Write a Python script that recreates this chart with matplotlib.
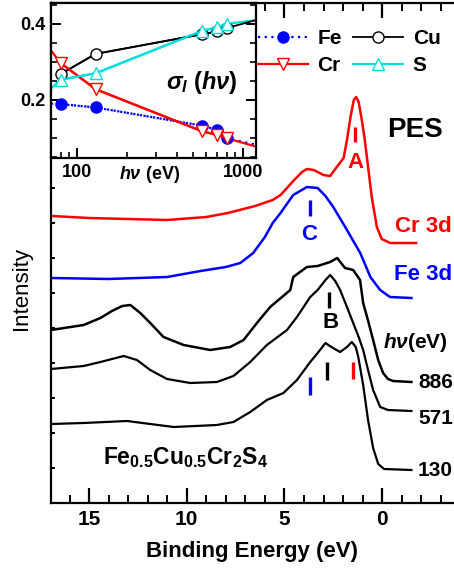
import matplotlib
matplotlib.use("Agg")
import matplotlib.pyplot as plt
import numpy as np
from matplotlib.ticker import MultipleLocator, LogLocator, NullFormatter

plt.rcParams['font.family'] = 'Liberation Sans'
plt.rcParams['font.weight'] = 'bold'
plt.rcParams['mathtext.fontset'] = 'custom'
plt.rcParams['mathtext.rm'] = 'Liberation Sans:bold'
plt.rcParams['mathtext.it'] = 'Liberation Sans:bold:italic'
plt.rcParams['mathtext.bf'] = 'Liberation Sans:bold'

# ---- main panel: PES spectra (binding energy in eV, intensity offset, arb. units) ----
TOP = 503  # spectra were read downward from the top of the panel

cr_E = [16.9, 15, 13, 11, 9, 7.9, 6.5, 5.6, 5.2, 4.5, 4.1, 3.85, 3.5, 3.0, 2.66, 2.32,
        1.97, 1.8, 1.6, 1.45, 1.33, 1.2, 1.04, 0.9, 0.78, 0.53, 0.27, 0.02, -0.41, -1.74]
cr_I = TOP - np.array([216, 218, 219, 220, 217, 213, 206, 200, 195, 180, 172, 169, 170, 175, 176, 167,
                       158, 140, 115, 100, 97, 102, 120, 138, 157, 197, 227, 239, 243, 243])

fe_E = [16.9, 14, 11, 9.3, 8, 7.26, 6.6, 6.0, 5.6, 5.2, 4.55, 3.85, 3.3, 2.9, 2.5, 1.8,
        1.12, 0.6, 0.1, -0.4, -1.5]
fe_I = TOP - np.array([278, 279, 277, 271, 267, 263, 253, 237, 223, 213, 195, 187, 188, 196, 207, 230,
                       253, 277, 290, 297, 298])

h886_E = [16.95, 15.28, 14.42, 13.83, 13.3, 12.89, 12.38, 11.87, 11.19, 10.16, 8.8, 7.78, 7.09,
          6.41, 5.73, 4.7, 4.55, 3.85, 3.3, 2.66, 2.3, 1.9, 1.48, 1.13, 0.97, 0.7, 0.46, 0.2,
          -0.05, -0.3, -0.56, -1.5]
h886_I = TOP - np.array([330, 325, 318, 311, 306, 305, 313, 323, 337, 345, 350, 347, 340,
                         323, 307, 290, 277, 267, 266, 262, 258, 268, 270, 280, 303, 322, 340, 360,
                         373, 379, 381, 382])

h571_E = [16.95, 15.28, 14.42, 13.23, 12.55, 11.87, 11.01, 9.82, 8.46, 7.61, 6.75, 5.9, 4.87,
          4.36, 3.68, 3.3, 2.9, 2.66, 2.4, 2.15, 1.8, 1.48, 1.2, 0.97, 0.72, 0.46, 0.1, -0.3, -1.5]
h571_I = TOP - np.array([369, 366, 362, 356, 360, 370, 379, 383, 382, 376, 362, 345, 330,
                         317, 297, 290, 280, 275, 281, 290, 307, 323, 337, 350, 370, 390, 407, 410, 411])

h130_E = [16.95, 15.28, 13.06, 10.67, 8.46, 7.61, 6.75, 5.9, 5.05, 4.36, 3.68, 3.3,
          2.9, 2.6, 2.15, 1.8, 1.55, 1.35, 1.22, 0.97, 0.72, 0.46, 0.2, -0.1, -1.5]
h130_I = TOP - np.array([424, 423, 421, 427, 425, 422, 412, 400, 393, 380, 362, 353,
                         343, 347, 352, 347, 342, 347, 357, 385, 420, 448, 464, 469, 470])

# peak markers: (energy, lower, upper, colour)
peak_E = [1.38, 3.7, 2.7, 3.7, 2.8, 1.5]
peak_lo = TOP - np.array([142, 216, 308, 395, 380, 379])
peak_hi = TOP - np.array([127, 200, 292, 377, 362, 362])
peak_col = ['red', 'blue', 'black', 'blue', 'black', 'red']

# ---- inset: photoionisation cross sections ----
hv = [80, 130, 571, 700, 800]
sig_fe = [0.189, 0.180, 0.132, 0.121, 0.099]
sig_cu = [0.268, 0.321, 0.373, 0.380, 0.389]
sig_cr = [0.297, 0.228, 0.117, 0.108, 0.099]
sig_s = [0.253, 0.270, 0.382, 0.391, 0.400]
# connecting lines run through the points out to the frame
line_hv = [70, 80, 130, 571, 700, 800, 1200]
line_fe = [0.19, 0.189, 0.180, 0.132, 0.121, 0.099, 0.082]
line_cr = [0.33, 0.297, 0.228, 0.117, 0.108, 0.099, 0.077]
line_s = [0.23, 0.253, 0.270, 0.382, 0.391, 0.400, 0.41]
line_cu_hv = [80, 130, 571, 700, 800, 1200]
line_cu = [0.268, 0.321, 0.373, 0.380, 0.389, 0.41]

W, H = 454, 570
fig = plt.figure(figsize=(W / 100, H / 100), dpi=100)

ax = fig.add_axes([51 / W, 67 / H, 403 / W, 500 / H])
lw = 1.6
ax.plot(cr_E, cr_I, color='red', lw=1.8)
ax.plot(fe_E, fe_I, color='blue', lw=1.8)
ax.plot(h886_E, h886_I, color='black', lw=1.8)
ax.plot(h571_E, h571_I, color='black', lw=lw)
ax.plot(h130_E, h130_I, color='black', lw=lw)
for e, lo, hi, c in zip(peak_E, peak_lo, peak_hi, peak_col):
    ax.vlines(e, lo, hi, color=c, lw=2.4)

ax.set_xlim(16.95, -3.68)
ax.set_ylim(0, 500)
ax.spines['right'].set_visible(False)
for s in ['left', 'bottom', 'top']:
    ax.spines[s].set_linewidth(1.6)
ax.xaxis.set_major_locator(MultipleLocator(5))
ax.xaxis.set_minor_locator(MultipleLocator(1))
ax.yaxis.set_major_locator(MultipleLocator(35))
ax.tick_params(axis='x', which='major', direction='in', length=10.5, width=1.6,
               labelsize=15, pad=5, top=True)
ax.tick_params(axis='x', which='minor', direction='in', length=5.5, width=1.4, top=True)
ax.tick_params(axis='y', which='major', direction='in', length=3, width=1.4, labelleft=False)
ax.set_xlabel('Binding Energy (eV)', fontsize=16, fontweight='bold', labelpad=9)
ax.set_ylabel('Intensity', fontsize=16, fontweight='normal')
ax.yaxis.set_label_coords(-0.047, 0.43)

ax.text(-1.69, 373, 'PES', fontsize=20, ha='center', va='center')
ax.text(-0.66, 276, 'Cr 3d', fontsize=16, color='red', ha='left', va='center')
ax.text(-0.61, 228, 'Fe 3d', fontsize=16, color='blue', ha='left', va='center')
ax.text(-0.05, 160, r'$\mathit{h\nu}$(eV)', fontsize=15, ha='left', va='center')
ax.text(-1.84, 120, '886', fontsize=15, ha='left', va='center')
ax.text(-1.84, 85, '571', fontsize=15, ha='left', va='center')
ax.text(-1.84, 33, '130', fontsize=15, ha='left', va='center')
ax.text(1.38, 341, 'A', fontsize=16, color='red', ha='center', va='center')
ax.text(2.66, 180, 'B', fontsize=16, ha='center', va='center')
ax.text(3.73, 268, 'C', fontsize=16, color='blue', ha='center', va='center')
ax.text(14.27, 45, r'Fe$_{0.5}$Cu$_{0.5}$Cr$_2$S$_4$', fontsize=16.5, ha='left', va='center')

# ---- inset ----
axi = fig.add_axes([51 / W, 1 - 158 / H, 205 / W, 155 / H])
axi.set_facecolor('white')
axi.set_xscale('log')
ms = 8
axi.plot(line_hv, line_fe, color='blue', ls=(0, (1, 2)), lw=1.6)
axi.plot(line_hv, line_cr, color='red', lw=1.6)
axi.plot(line_hv, line_s, color='#00e0e0', lw=1.6)
axi.plot(line_cu_hv, line_cu, color='black', lw=1.3)
h_fe, = axi.plot(hv, sig_fe, color='blue', ls=(0, (1, 2)), lw=1.6, marker='o', ms=ms,
                 mfc='blue', mec='blue', label='Fe')
h_cu, = axi.plot(hv, sig_cu, color='black', lw=1.3, marker='o', ms=ms,
                 mfc='white', mec='black', mew=1.0, label='Cu')
h_cr, = axi.plot(hv, sig_cr, color='red', lw=1.6, marker='v', ms=ms + 1,
                 mfc='white', mec='red', mew=1.0, label='Cr')
h_s, = axi.plot(hv, sig_s, color='#00e0e0', lw=1.6, marker='^', ms=ms + 1,
                mfc='white', mec='#00e0e0', mew=1.0, label='S')
axi.set_xlim(70, 1200)
axi.set_ylim(0.047, 0.455)
axi.set_xticks([100, 1000])
axi.set_xticklabels(['100', '1000'])
axi.xaxis.set_minor_locator(LogLocator(base=10, subs=np.arange(2, 10)))
axi.xaxis.set_minor_formatter(NullFormatter())
axi.set_yticks([0.2, 0.4])
axi.set_yticklabels(['0.2', '0.4'])
axi.yaxis.set_minor_locator(MultipleLocator(0.05))
for s in axi.spines.values():
    s.set_linewidth(1.6)
axi.tick_params(which='major', direction='in', length=7, width=1.4, labelsize=13,
                right=True, pad=4)
axi.tick_params(which='minor', direction='in', length=4, width=1.2, right=True)
axi.text(0.91, 0.49, r'$\sigma_{\it l}$ $(\mathit{h\nu})$', transform=axi.transAxes,
         fontsize=17, ha='right', va='center')
fig.text(150 / W, 1 - 174 / H, r'$\mathit{h\nu}$ (eV)', fontsize=13, ha='center', va='center')

fig.legend(handles=[h_fe, h_cr, h_cu, h_s], ncol=2, loc='upper left',
           bbox_to_anchor=(258 / W, 1 - 29 / H), frameon=False, fontsize=15,
           handlelength=2.4, handletextpad=0.45, columnspacing=0.55, labelspacing=0.4,
           borderpad=0, borderaxespad=0, numpoints=1)

fig.savefig('out.png', dpi=100)
